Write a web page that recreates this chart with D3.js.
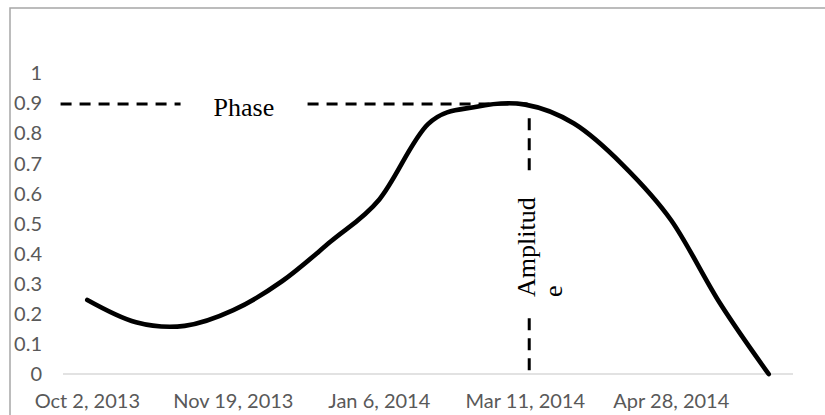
<!DOCTYPE html>
<html>
<head>
<meta charset="utf-8">
<script src="https://cdn.jsdelivr.net/npm/d3@7"></script>
<style>
  html, body { margin: 0; padding: 0; background: #fff; }
  svg { display: block; }
</style>
</head>
<body>
<svg id="chart" width="825" height="415"></svg>
<script>
// ---- data ----
const categoryIndex = [0, 1, 2, 3, 4, 5, 6, 7, 8, 9, 10, 11, 12, 13, 14];
const values = [0.246, 0.172, 0.16, 0.212, 0.308, 0.44, 0.58, 0.83, 0.888, 0.895, 0.832, 0.695, 0.51, 0.235, 0];
const xTickIndex = [0, 3, 6, 9, 12];
const xTickLabels = ["Oct 2, 2013", "Nov 19, 2013", "Jan 6, 2014", "Mar 11, 2014", "Apr 28, 2014"];
const yTicks = [0, 0.1, 0.2, 0.3, 0.4, 0.5, 0.6, 0.7, 0.8, 0.9, 1];
// annotation anchors (in data units)
const phaseValue = 0.897;
const phaseStartIndex = -0.55;
const peakIndex = 9.08;
const amplitudeTop = 0.85;

// ---- layout ----
const svg = d3.select("#chart");
const plot = { left: 63, right: 793, top: 73, bottom: 374 };

const x = d3.scaleLinear().domain([-0.5, 14.5]).range([plot.left, plot.right]);
const y = d3.scaleLinear().domain([0, 1]).range([plot.bottom, plot.top]);

// chart-area border (extends past the viewport on right/bottom)
svg.append("rect")
  .attr("x", 10).attr("y", 8).attr("width", 900).attr("height", 500)
  .attr("fill", "none").attr("stroke", "#a6a6a6").attr("stroke-width", 1.5);

// zero gridline / category axis line
svg.append("line")
  .attr("x1", x(-0.5)).attr("x2", x(14.5))
  .attr("y1", y(0)).attr("y2", y(0))
  .attr("stroke", "#d9d9d9").attr("stroke-width", 1.5);

const axisFont = "Lato, 'Open Sans', sans-serif";

// y tick labels
svg.append("g").selectAll("text").data(yTicks).join("text")
  .attr("x", 42).attr("y", d => y(d)).attr("dy", "0.36em")
  .attr("text-anchor", "end")
  .attr("font-family", axisFont).attr("font-size", 20).attr("fill", "#595959")
  .text(d => d3.format("")(+d.toFixed(1)));

// x tick labels
svg.append("g").selectAll("text").data(xTickIndex).join("text")
  .attr("x", d => x(d)).attr("y", 408)
  .attr("text-anchor", "middle")
  .attr("font-family", axisFont).attr("font-size", 20).attr("fill", "#595959")
  .text((d, i) => xTickLabels[i]);

// dashed phase line
svg.append("line")
  .attr("x1", x(phaseStartIndex)).attr("x2", x(peakIndex))
  .attr("y1", y(phaseValue)).attr("y2", y(phaseValue))
  .attr("stroke", "#000").attr("stroke-width", 3).attr("stroke-dasharray", "11,8");

// dashed amplitude line
svg.append("line")
  .attr("x1", x(peakIndex)).attr("x2", x(peakIndex))
  .attr("y1", y(amplitudeTop)).attr("y2", y(0))
  .attr("stroke", "#000").attr("stroke-width", 3).attr("stroke-dasharray", "12,8");

// the series curve
const line = d3.line()
  .x((d, i) => x(categoryIndex[i]))
  .y(d => y(d))
  .curve(d3.curveCardinal.tension(0));

svg.append("path")
  .datum(values)
  .attr("d", line)
  .attr("fill", "none").attr("stroke", "#000").attr("stroke-width", 4.7)
  .attr("stroke-linecap", "round").attr("stroke-linejoin", "round");

// Phase text box
const phaseY = y(phaseValue);
svg.append("rect")
  .attr("x", x(phaseStartIndex) + 120).attr("y", phaseY - 16)
  .attr("width", 123).attr("height", 34).attr("fill", "#fff");
svg.append("text")
  .attr("x", x(phaseStartIndex) + 153).attr("y", phaseY + 12)
  .attr("font-family", "'Liberation Serif', 'Times New Roman', serif")
  .attr("font-size", 26).attr("fill", "#000")
  .text("Phase");

// Amplitude text box
const ax = x(peakIndex);
svg.append("rect")
  .attr("x", ax - 22).attr("y", y(0) - 200)
  .attr("width", 62).attr("height", 140).attr("fill", "#fff");
const amp = svg.append("text")
  .attr("transform", `translate(${ax + 6},${y(0) - 77}) rotate(-90)`)
  .attr("font-family", "'Liberation Serif', 'Times New Roman', serif")
  .attr("font-size", 26).attr("fill", "#000");
amp.append("tspan").attr("x", 0).attr("y", 0).text("Amplitud");
amp.append("tspan").attr("x", 0).attr("dy", 27).text("e");
</script>
</body>
</html>
